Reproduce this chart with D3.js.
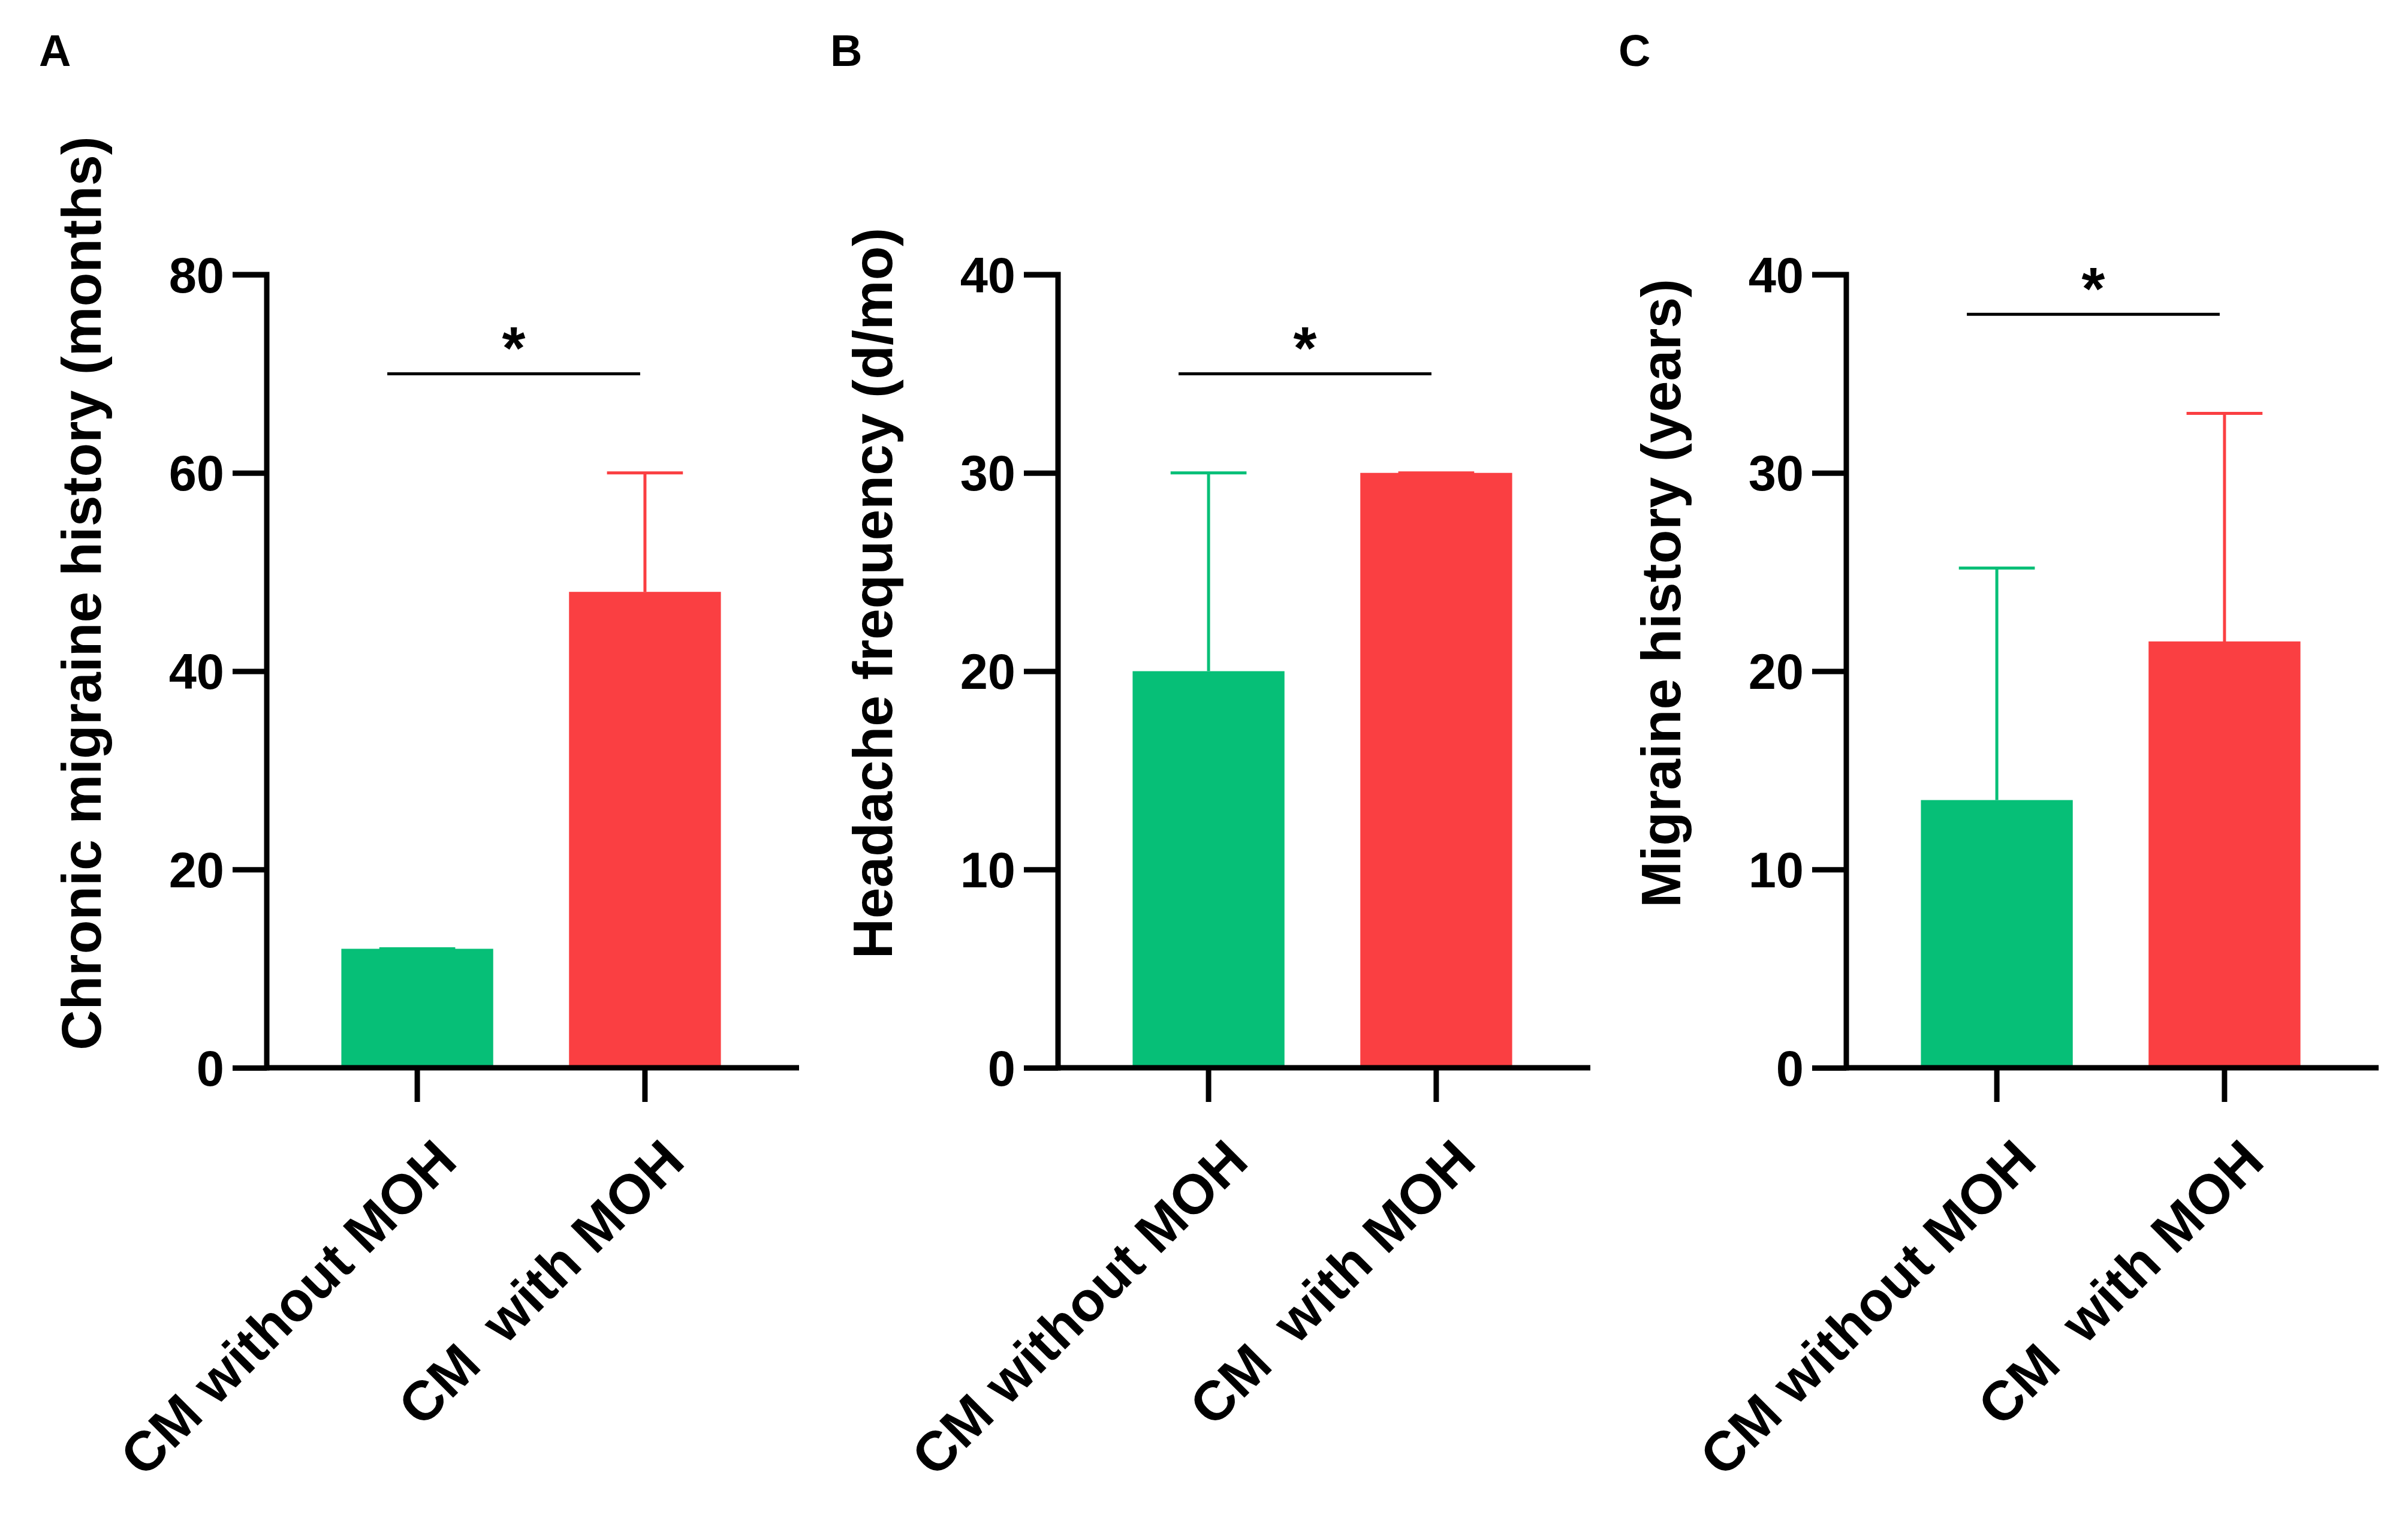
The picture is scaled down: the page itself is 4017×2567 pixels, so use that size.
<!DOCTYPE html>
<html><head><meta charset="utf-8">
<script src="https://cdn.jsdelivr.net/npm/d3@7"></script>
<style>body{margin:0;background:#fff}text{font-family:"Liberation Sans",Arial,sans-serif;font-weight:bold;white-space:pre}</style>
</head><body>
<svg id="chart" width="4017" height="2567"></svg>
<script>
// data
var categories = ["CM without MOH", "CM  with MOH"];
var panelLetters = ["A", "B", "C"];
var yTitles = ["Chronic migraine history (months)", "Headache frequency (d/mo)", "Migraine history (years)"];
var yMax = [80, 40, 40];
var yTicks = [[0, 20, 40, 60, 80], [0, 10, 20, 30, 40], [0, 10, 20, 30, 40]];
var means = [[12, 48], [20, 30], [13.5, 21.5]];
var upperErr = [[12, 60], [30, 30], [25.2, 33]];
var sigLevel = [70, 35, 38];
var colors = ["#06bf77", "#fa3f42"];

var svg = d3.select("#chart");
var panelX = [445, 1765, 3080];
var plotTop = 458, plotBottom = 1781, axisW = 888;

panelLetters.forEach(function(letter, i){
  var g = svg.append("g").attr("transform", "translate(" + panelX[i] + ",0)");
  var y = d3.scaleLinear().domain([0, yMax[i]]).range([plotBottom, plotTop]);
  var x = d3.scaleBand().domain(categories).range([61, 821]).paddingInner(0.333).paddingOuter(0.167);

  g.append("text").attr("x", -380).attr("y", 110).attr("font-size", 74).text(letter);

  // bars
  categories.forEach(function(c, j){
    var bx = x(c), bw = x.bandwidth(), cx = bx + bw / 2;
    g.append("rect").attr("x", bx).attr("y", y(means[i][j]))
      .attr("width", bw).attr("height", plotBottom - y(means[i][j])).attr("fill", colors[j]);
    g.append("line").attr("x1", cx).attr("x2", cx).attr("y1", y(means[i][j])).attr("y2", y(upperErr[i][j]))
      .attr("stroke", colors[j]).attr("stroke-width", 5);
    g.append("line").attr("x1", cx - bw / 4).attr("x2", cx + bw / 4).attr("y1", y(upperErr[i][j])).attr("y2", y(upperErr[i][j]))
      .attr("stroke", colors[j]).attr("stroke-width", 5);
  });

  // y axis
  var ya = g.append("g").call(d3.axisLeft(y).tickValues(yTicks[i]).tickSize(57).tickPadding(14));
  ya.select(".domain").attr("stroke-width", 9).attr("d", "M0," + (plotBottom + 4.5) + "V" + plotTop + "H-57");
  ya.selectAll(".tick line").attr("stroke-width", 9);
  ya.selectAll(".tick text").attr("font-size", 83).attr("dy", "0.35em").attr("fill", "#000");

  // x axis
  var xa = g.append("g").attr("transform", "translate(0," + plotBottom + ")").call(d3.axisBottom(x).tickSize(57).tickPadding(14));
  xa.select(".domain").attr("stroke-width", 9).attr("d", "M0,0H" + axisW);
  xa.selectAll(".tick line").attr("stroke-width", 9);
  xa.selectAll(".tick text").attr("font-size", 93).attr("fill", "#000")
    .attr("text-anchor", "end").attr("dy", "0")
    .attr("transform", "translate(20,110) rotate(-45)");

  // y title
  g.append("text").attr("transform", "translate(-277," + ((plotTop + plotBottom) / 2 - 130) + ") rotate(-90)")
    .attr("text-anchor", "middle").attr("font-size", 93).text(yTitles[i]);

  // significance
  var x1 = x(categories[0]) + x.bandwidth() / 2 - 50, x2 = x(categories[1]) + x.bandwidth() / 2 - 8;
  g.append("line").attr("x1", x1).attr("x2", x2).attr("y1", y(sigLevel[i])).attr("y2", y(sigLevel[i]))
    .attr("stroke", "#000").attr("stroke-width", 5);
  g.append("text").attr("x", (x1 + x2) / 2).attr("y", y(sigLevel[i]) - 8).attr("text-anchor", "middle")
    .attr("font-size", 100).text("*");
});
</script>
</body></html>
